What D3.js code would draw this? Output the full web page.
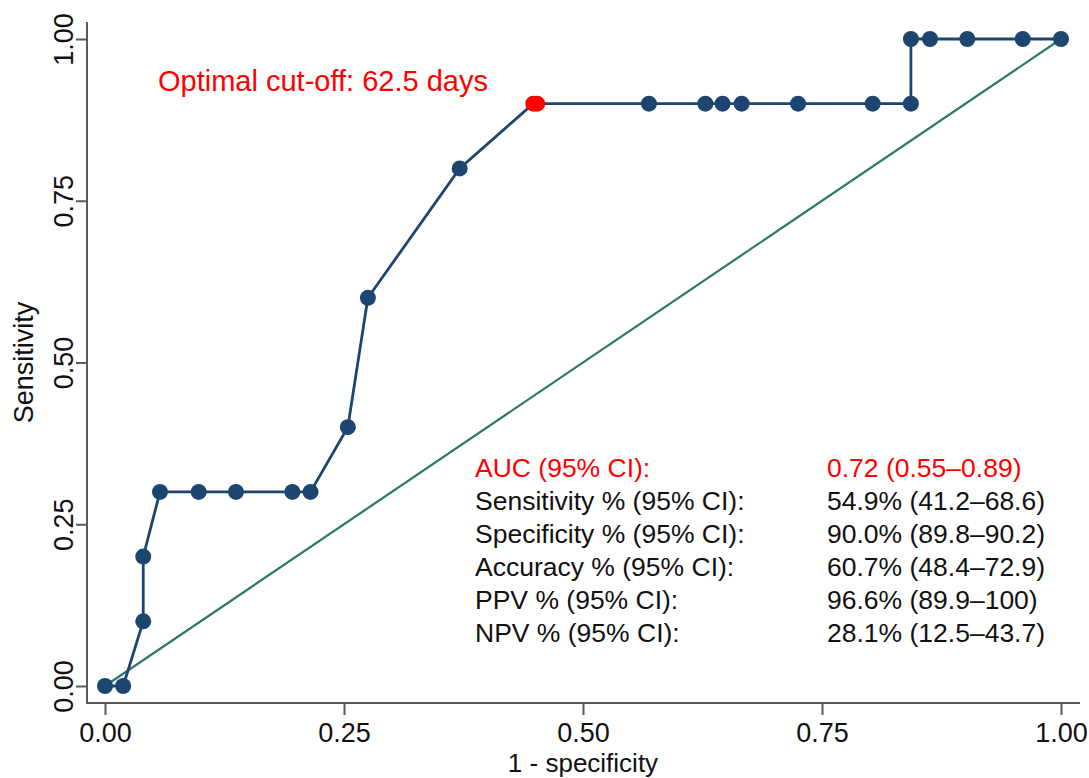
<!DOCTYPE html>
<html><head><meta charset="utf-8">
<script src="https://cdn.jsdelivr.net/npm/d3@7"></script>
<style>
body{margin:0;background:#fff;}
text{font-family:"Liberation Sans",Arial,sans-serif;}
</style></head>
<body><svg id="c" width="1089" height="778"></svg>
<script>
const fpr  = [0, 0.019, 0.04, 0.04, 0.0575, 0.098, 0.137, 0.196, 0.215, 0.254, 0.275, 0.371, 0.448, 0.452, 0.569, 0.628, 0.646, 0.666, 0.725, 0.803, 0.843, 0.843, 0.863, 0.902, 0.960, 1.0];
const tpr  = [0, 0, 0.10, 0.20, 0.30, 0.30, 0.30, 0.30, 0.30, 0.40, 0.60, 0.80, 0.90, 0.90, 0.90, 0.90, 0.90, 0.90, 0.90, 0.90, 0.90, 1.0, 1.0, 1.0, 1.0, 1.0];
const optimalIdx = [12, 13];
const xTicks = [0, 0.25, 0.5, 0.75, 1.0];
const yTicks = [0, 0.25, 0.5, 0.75, 1.0];
const statLabels = ["AUC (95% CI):", "Sensitivity % (95% CI):", "Specificity % (95% CI):", "Accuracy % (95% CI):", "PPV % (95% CI):", "NPV % (95% CI):"];
const statValues = ["0.72 (0.55\u20130.89)", "54.9% (41.2\u201368.6)", "90.0% (89.8\u201390.2)", "60.7% (48.4\u201372.9)", "96.6% (89.9\u2013100)", "28.1% (12.5\u201343.7)"];
const cutoffText = "Optimal cut-off: 62.5 days";

const svg = d3.select("#c");
const x = d3.scaleLinear().domain([0,1]).range([105,1061]);
const y = d3.scaleLinear().domain([0,1]).range([686,39]);
const axisX0 = 87, axisY0 = 703;
const axisCol = "#5a5a5a";
const fs = 26.5, tfs = 27;

// axes
const gx = svg.append("g").attr("transform",`translate(0,${axisY0})`)
  .call(d3.axisBottom(x).tickValues(xTicks).tickFormat(d3.format(".2f")).tickSize(12).tickSizeOuter(0));
const gy = svg.append("g").attr("transform",`translate(${axisX0},0)`)
  .call(d3.axisLeft(y).tickValues(yTicks).tickFormat(d3.format(".2f")).tickSize(11).tickSizeOuter(0));
[gx,gy].forEach(g=>{
  g.select(".domain").remove();
  g.selectAll(".tick line").attr("stroke",axisCol).attr("stroke-width",2);
  g.selectAll(".tick text").attr("fill","#111").style("font-size",tfs+"px").style("font-family","'Liberation Sans',Arial,sans-serif");
});
gx.selectAll(".tick text").attr("dy",null).attr("y",39);
gy.selectAll(".tick text").attr("x",null).attr("dy",null).attr("dx",null)
  .attr("text-anchor","middle").attr("transform","translate(-14,0) rotate(-90)").attr("y",0);
svg.append("line").attr("x1",axisX0).attr("x2",axisX0).attr("y1",22).attr("y2",axisY0+1).attr("stroke",axisCol).attr("stroke-width",2);
svg.append("line").attr("x1",axisX0-1).attr("x2",1080).attr("y1",axisY0).attr("y2",axisY0).attr("stroke",axisCol).attr("stroke-width",2);

// axis titles
svg.append("text").attr("x",(x(0)+x(1))/2).attr("y",772).attr("text-anchor","middle").style("font-size","26px").attr("fill","#111").text("1 - specificity");
svg.append("text").attr("transform",`translate(33,${(y(0)+y(1))/2}) rotate(-90)`).attr("text-anchor","middle").style("font-size",tfs+"px").attr("fill","#111").text("Sensitivity");

// reference diagonal
svg.append("line").attr("x1",x(0)).attr("y1",y(0)).attr("x2",x(1)).attr("y2",y(1)).attr("stroke","#2b7a68").attr("stroke-width",2.2);

// ROC line
const pts = fpr.map((d,i)=>({x:d,y:tpr[i],i}));
svg.append("path").datum(pts).attr("fill","none").attr("stroke","#1c4670").attr("stroke-width",2.8)
  .attr("d",d3.line().x(d=>x(d.x)).y(d=>y(d.y)));
svg.selectAll("circle.p").data(pts).join("circle").attr("class","p")
  .attr("cx",d=>x(d.x)).attr("cy",d=>y(d.y)).attr("r",8)
  .attr("fill",d=>optimalIdx.includes(d.i)?"#ff0000":"#1c4670");

// cutoff text
svg.append("text").attr("x",158).attr("y",91).style("font-size","29px").attr("fill","#ff0000").text(cutoffText);

// stats table
statLabels.forEach((s,i)=>{
  const col = i===0?"#ff0000":"#111";
  svg.append("text").attr("x",475).attr("y",477+i*33).style("font-size",fs+"px").attr("fill",col).text(s);
  svg.append("text").attr("x",827).attr("y",477+i*33).style("font-size",fs+"px").attr("fill",col).text(statValues[i]);
});
</script></body></html>
